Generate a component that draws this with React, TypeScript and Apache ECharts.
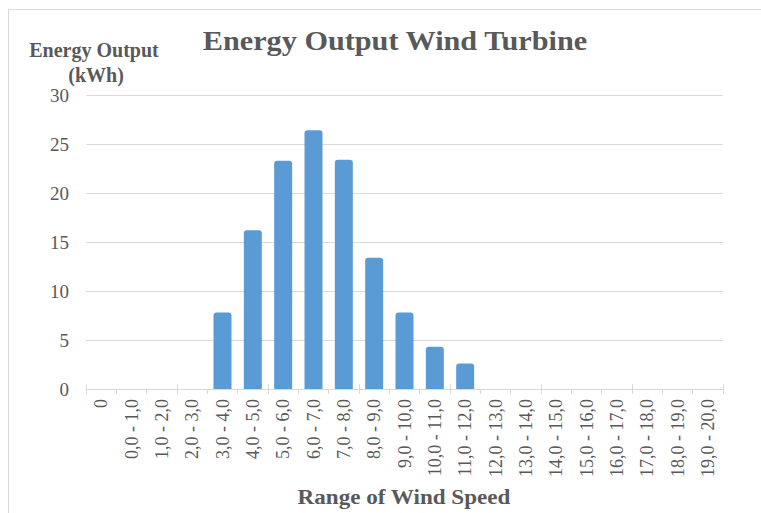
import React, { useEffect, useRef } from "react";
import * as echarts from "echarts";

const categories = [
  "0",
  "0,0 - 1,0",
  "1,0 - 2,0",
  "2,0 - 3,0",
  "3,0 - 4,0",
  "4,0 - 5,0",
  "5,0 - 6,0",
  "6,0 - 7,0",
  "7,0 - 8,0",
  "8,0 - 9,0",
  "9,0 - 10,0",
  "10,0 - 11,0",
  "11,0 - 12,0",
  "12,0 - 13,0",
  "13,0 - 14,0",
  "14,0 - 15,0",
  "15,0 - 16,0",
  "16,0 - 17,0",
  "17,0 - 18,0",
  "18,0 - 19,0",
  "19,0 - 20,0",
];

const energyOutput = [
  0, 0, 0, 0, 7.8, 16.2, 23.3, 26.4, 23.4, 13.4, 7.8, 4.3, 2.6, 0, 0, 0, 0, 0, 0, 0, 0,
];

const titleText = "Energy Output Wind Turbine";
const yAxisNameLines = ["Energy Output", "(kWh)"];
const xAxisNameText = "Range of Wind Speed";

const SERIF = "'Liberation Serif', 'Times New Roman', serif";
const TEXT = "#595959";
const GRID = "#d9d9d9";

export default function App() {
  const ref = useRef<HTMLDivElement>(null);

  useEffect(() => {
    if (!ref.current) return;
    const chart = echarts.init(ref.current, null, { renderer: "svg" });
    chart.setOption({
      animation: false,
      backgroundColor: "#ffffff",
      grid: { left: 86, right: 38, top: 95, bottom: 124, containLabel: false },
      xAxis: [
        {
          type: "category",
          data: categories,
          position: "bottom",
          axisLine: { show: true, lineStyle: { color: GRID, width: 1 } },
          axisTick: { show: true, length: 5, lineStyle: { color: GRID } },
          axisLabel: {
            rotate: 90,
            interval: 0,
            margin: 10,
            color: TEXT,
            fontFamily: SERIF,
            fontSize: 18,
          },
          splitLine: { show: false },
        },
        {
          type: "category",
          data: categories,
          position: "bottom",
          axisLine: { show: false },
          axisTick: { show: true, inside: true, length: 5, lineStyle: { color: GRID } },
          axisLabel: { show: false },
          splitLine: { show: false },
        },
      ],
      yAxis: {
        type: "value",
        min: 0,
        max: 30,
        interval: 5,
        axisLine: { show: false },
        axisTick: { show: false },
        axisLabel: {
          color: TEXT,
          fontFamily: SERIF,
          fontSize: 19,
          margin: 17,
        },
        splitLine: { show: true, lineStyle: { color: GRID, width: 1 } },
      },
      series: [
        {
          type: "bar",
          data: energyOutput,
          barWidth: 18,
          itemStyle: { color: "#5B9BD5", borderRadius: [3, 3, 0, 0] },
        },
      ],
      graphic: [
        {
          type: "line",
          shape: { x1: 8.5, y1: 9.5, x2: 761, y2: 9.5 },
          style: { stroke: "#d9d9d9", lineWidth: 1 },
          silent: true,
        },
        {
          type: "line",
          shape: { x1: 8.5, y1: 9.5, x2: 8.5, y2: 513 },
          style: { stroke: "#d9d9d9", lineWidth: 1 },
          silent: true,
        },
        {
          type: "text",
          x: 395,
          y: 40,
          scaleX: 1.08,
          style: {
            text: titleText,
            fill: TEXT,
            font: `bold 28px ${SERIF}`,
            textAlign: "center",
            textVerticalAlign: "middle",
          },
        },
        {
          type: "text",
          x: 94,
          y: 50,
          style: {
            text: yAxisNameLines[0],
            fill: TEXT,
            font: `bold 20px ${SERIF}`,
            textAlign: "center",
            textVerticalAlign: "middle",
          },
        },
        {
          type: "text",
          x: 96,
          y: 75,
          style: {
            text: yAxisNameLines[1],
            fill: TEXT,
            font: `bold 20px ${SERIF}`,
            textAlign: "center",
            textVerticalAlign: "middle",
          },
        },
        {
          type: "text",
          x: 404,
          y: 497,
          scaleX: 1.1,
          style: {
            text: xAxisNameText,
            fill: TEXT,
            font: `bold 21px ${SERIF}`,
            textAlign: "center",
            textVerticalAlign: "middle",
          },
        },
      ],
    });
    return () => chart.dispose();
  }, []);

  return (
    <div
      ref={ref}
      style={{ position: "absolute", left: 0, top: 0, width: 761, height: 513 }}
    />
  );
}
